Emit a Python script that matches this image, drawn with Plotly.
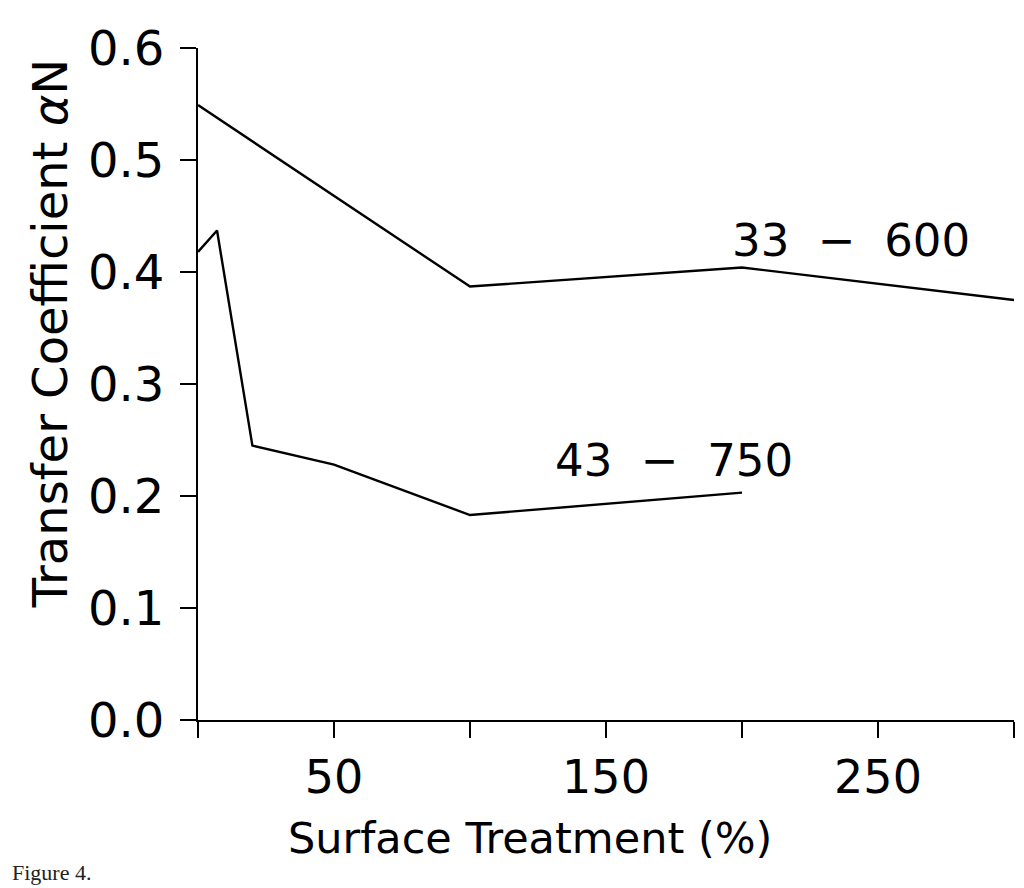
import plotly.graph_objects as go

# Series 33 - 600
s1_x = [0, 100, 200, 300]
s1_y = [0.549, 0.387, 0.404, 0.375]
# Series 43 - 750
s2_x = [0, 7, 20, 50, 100, 200]
s2_y = [0.418, 0.437, 0.245, 0.228, 0.183, 0.203]

x_ticks = [0, 50, 100, 150, 200, 250, 300]
x_tick_text = ["", "50", "", "150", "", "250", ""]
y_ticks = [0.0, 0.1, 0.2, 0.3, 0.4, 0.5, 0.6]
y_tick_text = ["0.0", "0.1", "0.2", "0.3", "0.4", "0.5", "0.6"]

FONT = "DejaVu Sans"

fig = go.Figure()
fig.add_trace(go.Scatter(x=s1_x, y=s1_y, mode="lines",
                         line=dict(color="black", width=2.4), showlegend=False))
fig.add_trace(go.Scatter(x=s2_x, y=s2_y, mode="lines",
                         line=dict(color="black", width=2.4), showlegend=False))

fig.add_annotation(x=240, y=0.428, xref="x", yref="y", text="33  −  600",
                   showarrow=False, xanchor="center", yanchor="middle",
                   font=dict(family=FONT, size=45, color="black"))
fig.add_annotation(x=175, y=0.232, xref="x", yref="y", text="43  −  750",
                   showarrow=False, xanchor="center", yanchor="middle",
                   font=dict(family=FONT, size=45, color="black"))

fig.add_annotation(x=522, y=830, xref="paper", yref="paper", text="Surface Treatment (%)",
                   showarrow=False, xanchor="center", yanchor="middle",
                   font=dict(family=FONT, size=43, color="black"))
fig.add_annotation(x=42, y=325, xref="paper", yref="paper", text="Transfer Coefficient <i>α</i>N",
                   textangle=-90, showarrow=False, xanchor="center", yanchor="middle",
                   font=dict(family=FONT, size=48, color="black"))
fig.add_annotation(x=2, y=850, xref="paper", yref="paper", text="Figure 4.",
                   xanchor="left", yanchor="top", showarrow=False,
                   font=dict(family="Liberation Serif", size=22, color="#222"))

L, R, T, B = 190, 18, 38, 176
W, H = 1024, 888
# convert pixel-placed paper annotations
for a in fig.layout.annotations:
    if a.xref == "paper":
        a.x = (a.x - L) / (W - L - R)
        a.y = ((H - B) - a.y) / (H - T - B)

fig.update_xaxes(range=[0, 300], tickvals=x_ticks, ticktext=x_tick_text,
                 showline=True, linecolor="black", linewidth=2,
                 ticks="outside", ticklen=16, tickwidth=2, tickcolor="black",
                 showgrid=False, zeroline=False,
                 tickfont=dict(family=FONT, size=46, color="black"))
fig.update_yaxes(range=[0, 0.6], tickvals=y_ticks, ticktext=y_tick_text,
                 showline=True, linecolor="black", linewidth=2,
                 ticks="outside", ticklen=16, tickwidth=2, tickcolor="black",
                 showgrid=False, zeroline=False, ticklabelstandoff=6,
                 tickfont=dict(family=FONT, size=48, color="black"))

fig.update_layout(width=W, height=H, margin=dict(l=L, r=R, t=T, b=B),
                  plot_bgcolor="white", paper_bgcolor="white")

fig.write_html("out.html")
